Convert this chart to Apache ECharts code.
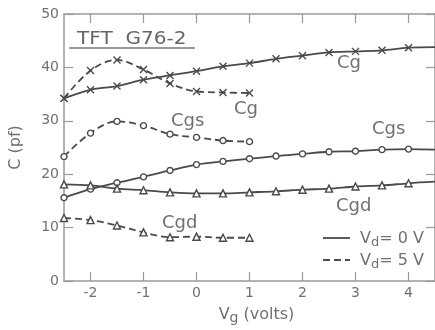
<!DOCTYPE html>
<html><head><meta charset="utf-8">
<script src="https://cdn.jsdelivr.net/npm/echarts@6/dist/echarts.min.js"></script>
<style>html,body{margin:0;padding:0;background:#fff}#c{width:435px;height:330px}</style>
</head><body><div id="c"></div>
<script>
// Gate voltage samples (V)
const xFull = [-2.5,-2,-1.5,-1,-0.5,0,0.5,1,1.5,2,2.5,3,3.5,4,4.5];
const xShort = [-2.5,-2,-1.5,-1,-0.5,0,0.5,1];
// Vd = 0 V (solid)
const cg0  = [34.2,35.8,36.5,37.7,38.5,39.3,40.2,40.8,41.6,42.2,42.8,43.0,43.2,43.7,43.8];
const cgs0 = [15.6,17.2,18.4,19.5,20.7,21.8,22.4,22.9,23.4,23.8,24.2,24.3,24.6,24.7,24.6];
const cgd0 = [18.1,17.9,17.3,17.0,16.6,16.4,16.4,16.6,16.8,17.1,17.3,17.7,17.9,18.3,18.6];
// Vd = 5 V (dashed)
const cg5  = [34.2,39.4,41.4,39.6,37.0,35.5,35.3,35.2];
const cgs5 = [23.3,27.7,29.9,29.1,27.5,26.9,26.3,26.1];
const cgd5 = [11.8,11.4,10.4,9.1,8.2,8.3,8.1,8.1];
const xTicks = [-2,-1,0,1,2,3,4];
const legendNames = ['0 V', '5 V'];

const FONT = 'DejaVu Sans';
const LINE = '#4a4a4a';
const AX = '#9a9a9a';
const TXT = '#707070';
const XSYM = 'path://M0,0L10,10M10,0L0,10';
const DASH = [7, 4];

function pts(xs, ys) {
  return ys.map((v, i) => {
    const d = {value: [xs[i], v]};
    if (xs[i] > 4.2) d.symbol = 'none';
    return d;
  });
}
function ser(name, xs, ys, dashed, sym, size) {
  return {
    type: 'line', name: name, data: pts(xs, ys), smooth: 0.35,
    symbol: sym, symbolSize: size, showAllSymbol: true,
    lineStyle: {color: LINE, width: 1.8, type: dashed ? DASH : 'solid'},
    itemStyle: {color: '#fff', borderColor: LINE, borderWidth: 1.4},
    emphasis: {disabled: true}, z: 3
  };
}
function lbl(text, left, top) {
  return {type: 'text', left: left, top: top, style: {text: text, font: '18px "' + FONT + '"', fill: TXT}, z: 10};
}
function legendText(v, top) {
  return {type: 'text', left: 360, top: top, z: 10, style: {
    text: '{a|V}{d|d}{a|= ' + v + '}',
    rich: {a: {font: '16px "' + FONT + '"', fill: TXT}, d: {font: '13px "' + FONT + '"', fill: TXT, padding: [7, 0, 0, 0]}}
  }};
}

const chart = echarts.init(document.getElementById('c'), null, {renderer: 'canvas'});
chart.setOption({
  animation: false,
  grid: {left: 57, right: -3, top: 14, bottom: 43},
  xAxis: [{
    type: 'value', min: -2.5, max: 4.5, position: 'bottom',
    axisLine: {onZero: false, lineStyle: {color: AX, width: 1.5}},
    axisTick: {inside: true, length: 9, customValues: xTicks, lineStyle: {color: AX, width: 1.2}},
    axisLabel: {customValues: xTicks, color: TXT, fontSize: 14, fontFamily: FONT, margin: 5},
    splitLine: {show: false},
    name: '{a|V}{g|g}{a| (volts)}', nameLocation: 'middle', nameGap: 24,
    nameTextStyle: {padding: [0, 0, 0, 14], rich: {a: {fontSize: 16, fontFamily: FONT, color: TXT}, g: {fontSize: 14, fontFamily: FONT, color: TXT, padding: [6, 0, 0, 0]}}}
  }, {
    type: 'value', min: -2.5, max: 4.5, position: 'top',
    axisLine: {onZero: false, lineStyle: {color: AX, width: 1.5}},
    axisTick: {inside: true, length: 9, customValues: xTicks, lineStyle: {color: AX, width: 1.2}},
    axisLabel: {show: false}, splitLine: {show: false}
  }],
  yAxis: [{
    type: 'value', min: 0, max: 50, interval: 10, position: 'left',
    axisLine: {show: true, onZero: false, lineStyle: {color: AX, width: 1.5}},
    axisTick: {show: true, inside: true, length: 9, lineStyle: {color: AX, width: 1.2}},
    axisLabel: {color: TXT, fontSize: 14, fontFamily: FONT, margin: 5},
    splitLine: {show: false},
    name: 'C (pf)', nameLocation: 'middle', nameGap: 40,
    nameTextStyle: {color: TXT, fontSize: 16, fontFamily: FONT}
  }, {
    type: 'value', min: 0, max: 50, interval: 10, position: 'right',
    axisLine: {show: true, onZero: false, lineStyle: {color: AX, width: 1.5}},
    axisTick: {show: true, inside: true, length: 9, lineStyle: {color: AX, width: 1.2}},
    axisLabel: {show: false}, splitLine: {show: false}
  }],
  series: [
    ser('cg0', xFull, cg0, false, XSYM, 7),
    ser('cgs0', xFull, cgs0, false, 'circle', 6),
    ser('cgd0', xFull, cgd0, false, 'triangle', 7),
    ser('cg5', xShort, cg5, true, XSYM, 7),
    ser('cgs5', xShort, cgs5, true, 'circle', 6),
    ser('cgd5', xShort, cgd5, true, 'triangle', 7)
  ],
  graphic: [
    {type: 'text', left: 77, top: 31, scaleX: 1.18, style: {text: 'TFT  G76-2', font: '17px "' + FONT + '"', fill: '#666'}, z: 10},
    {type: 'line', shape: {x1: 69, y1: 48, x2: 195, y2: 48}, style: {stroke: '#777', lineWidth: 1.5}, z: 10},
    lbl('Cg', 337, 54),
    lbl('Cg', 234, 100),
    lbl('Cgs', 171, 112),
    lbl('Cgs', 372, 120),
    lbl('Cgd', 336, 197),
    lbl('Cgd', 162, 214),
    {type: 'line', shape: {x1: 323, y1: 238, x2: 350, y2: 238}, style: {stroke: LINE, lineWidth: 1.8}, z: 10},
    {type: 'line', shape: {x1: 323, y1: 260, x2: 350, y2: 260}, style: {stroke: LINE, lineWidth: 1.8, lineDash: DASH}, z: 10},
    legendText(legendNames[0], 231),
    legendText(legendNames[1], 253)
  ]
});
</script></body></html>
